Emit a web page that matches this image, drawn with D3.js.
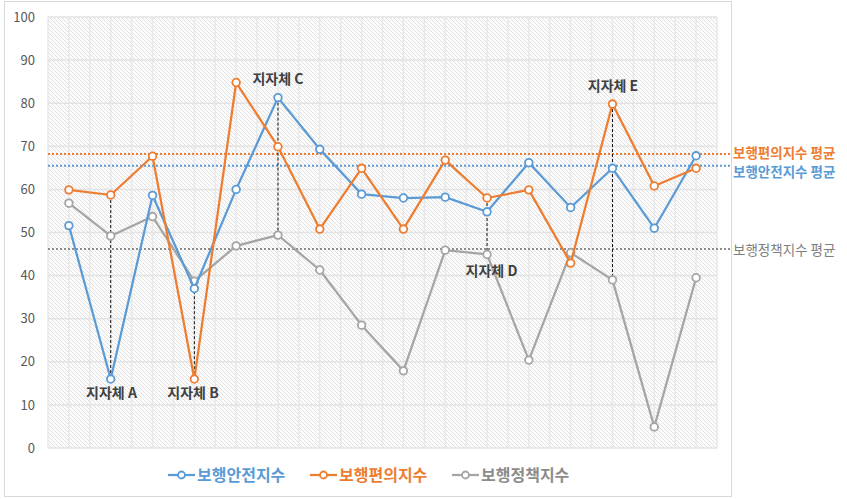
<!DOCTYPE html>
<html>
<head>
<meta charset="utf-8">
<script src="https://cdn.jsdelivr.net/npm/d3@7"></script>
<style>
  html, body { margin: 0; padding: 0; background: #fff; }
  svg { display: block; font-family: "Noto Sans CJK KR", "Noto Sans", sans-serif; }
</style>
</head>
<body>
<svg id="chart" width="847" height="499"></svg>
<script>
// 16 municipalities, three walking indices
const categories = d3.range(1, 17).map(i => "R" + i);
const safety  = [51.6, 16.0, 58.6, 37.0, 60.0, 81.3, 69.3, 58.9, 58.0, 58.2, 54.8, 66.2, 55.8, 64.9, 51.0, 67.8];
const comfort = [59.9, 58.7, 67.7, 16.0, 84.8, 69.9, 50.8, 64.9, 50.8, 66.8, 58.0, 59.9, 42.9, 79.8, 60.8, 64.9];
const policy  = [56.8, 49.2, 53.7, 38.7, 46.9, 49.4, 41.3, 28.5, 17.9, 45.9, 44.9, 20.4, 45.3, 39.0, 4.9, 39.5];
const seriesNames = ["보행안전지수", "보행편의지수", "보행정책지수"];
const seriesColors = ["#5B9BD5", "#ED7D31", "#A5A5A5"];
const averages = [65.5, 68.2, 46.2];
const averageLabels = ["보행안전지수 평균", "보행편의지수 평균", "보행정책지수 평균"];
const yTicks = [0, 10, 20, 30, 40, 50, 60, 70, 80, 90, 100];

// highlighted municipalities: index, label, guide-line endpoints
const callouts = [
  { idx: 1,  text: "지자체 A", from: comfort, to: safety },
  { idx: 3,  text: "지자체 B", from: policy,  to: comfort },
  { idx: 5,  text: "지자체 C", from: safety,  to: policy },
  { idx: 10, text: "지자체 D", from: comfort, to: policy },
  { idx: 13, text: "지자체 E", from: comfort, to: policy }
];

const svg = d3.select("#chart");
const L = 48, R = 717, T = 17, B = 448;

const x = d3.scaleBand().domain(categories).range([L, R]).padding(0);
const y = d3.scaleLinear().domain([0, 100]).range([B, T]);
const cx = i => x(categories[i]) + x.bandwidth() / 2;

// outer frame
svg.append("rect").attr("x", 4.5).attr("y", 1.5).attr("width", 727).attr("height", 495)
  .attr("fill", "#fff").attr("stroke", "#d9d9d9").attr("stroke-width", 1);

// diagonal hatch fill for the plot area
const defs = svg.append("defs");
const pat = defs.append("pattern").attr("id", "hatch").attr("patternUnits", "userSpaceOnUse")
  .attr("width", 4).attr("height", 4);
pat.append("rect").attr("width", 4).attr("height", 4).attr("fill", "#fcfcfc");
pat.append("path").attr("d", "M-1,-1L5,5M-1,3L1,5M3,-1L5,1")
  .attr("stroke", "#dedede").attr("stroke-width", 0.9);

svg.append("rect").attr("x", L).attr("y", T).attr("width", R - L).attr("height", B - T)
  .attr("fill", "url(#hatch)");

// vertical gridlines every half band
const half = x.bandwidth() / 2;
const vLines = d3.range(0, categories.length * 2 + 1).map(k => L + k * half);
svg.append("g").selectAll("line").data(vLines).join("line")
  .attr("x1", d => d).attr("x2", d => d).attr("y1", T).attr("y2", B)
  .attr("stroke", "#e8e8e8").attr("stroke-width", 1.5);

// horizontal gridlines
svg.append("g").selectAll("line").data(yTicks).join("line")
  .attr("x1", L).attr("x2", R).attr("y1", d => y(d)).attr("y2", d => y(d))
  .attr("stroke", "#e3e3e3").attr("stroke-width", 1.5);

// y axis labels
const yAxis = d3.axisLeft(y).tickValues(yTicks).tickSize(0).tickPadding(0);
const ya = svg.append("g").attr("transform", `translate(35,0)`).call(yAxis);
ya.select(".domain").remove();
ya.selectAll("text").attr("font-size", 13).attr("fill", "#595959")
  .attr("font-family", '"Noto Sans CJK KR", sans-serif');

// average reference lines
const avgLineColor = ["#5B9BD5", "#ED7D31", "#8c8c8c"];
averages.forEach((v, i) => {
  svg.append("line").attr("x1", L).attr("x2", 731).attr("y1", y(v)).attr("y2", y(v))
    .attr("stroke", avgLineColor[i])
    .attr("stroke-width", 2).attr("stroke-dasharray", "2,2");
});
const avgLabelY = [172, 153, 250];
const avgLabelColor = ["#5B9BD5", "#ED7D31", "#7f7f7f"];
averageLabels.forEach((t, i) => {
  svg.append("text").attr("x", 733).attr("y", avgLabelY[i]).attr("dy", "0.35em")
    .attr("font-size", 13.5).attr("font-weight", i < 2 ? 600 : 400)
    .attr("fill", avgLabelColor[i]).text(t);
});

// callout guide lines
callouts.forEach(c => {
  svg.append("line").attr("x1", cx(c.idx)).attr("x2", cx(c.idx))
    .attr("y1", y(c.from[c.idx])).attr("y2", y(c.to[c.idx]))
    .attr("stroke", "#111").attr("stroke-width", 1).attr("stroke-dasharray", "3,2");
});

// series lines and markers
const data = [safety, comfort, policy];
const line = d3.line().x((d, i) => cx(i)).y(d => y(d));
[2, 0, 1].forEach(s => {
  const g = svg.append("g");
  g.append("path").datum(data[s]).attr("d", line).attr("fill", "none")
    .attr("stroke", seriesColors[s]).attr("stroke-width", 2.25).attr("stroke-linejoin", "round");
  g.selectAll("circle").data(data[s]).join("circle")
    .attr("cx", (d, i) => cx(i)).attr("cy", d => y(d)).attr("r", 3.8)
    .attr("fill", "#fff").attr("stroke", seriesColors[s]).attr("stroke-width", 1.8);
});

// callout labels
const labelPos = {
  "지자체 A": [111.5, 393], "지자체 B": [193, 393], "지자체 C": [278, 79],
  "지자체 D": [491.5, 271], "지자체 E": [613, 86]
};
callouts.forEach(c => {
  const p = labelPos[c.text];
  svg.append("text").attr("x", p[0]).attr("y", p[1]).attr("dy", "0.35em")
    .attr("text-anchor", "middle").attr("font-size", 14).attr("font-weight", 600)
    .attr("fill", "#404040").text(c.text);
});

// legend
const legendX = [168, 310, 452];
seriesNames.forEach((n, i) => {
  const g = svg.append("g").attr("transform", `translate(${legendX[i]},475)`);
  g.append("line").attr("x1", 0).attr("x2", 27).attr("stroke", seriesColors[i]).attr("stroke-width", 2.25);
  g.append("circle").attr("cx", 13.5).attr("r", 3.5).attr("fill", "#fff")
    .attr("stroke", seriesColors[i]).attr("stroke-width", 1.8);
  g.append("text").attr("x", 29).attr("dy", "0.35em").attr("font-size", 16).attr("font-weight", 600)
    .attr("fill", i === 2 ? "#8c8c8c" : seriesColors[i]).text(n);
});
</script>
</body>
</html>
